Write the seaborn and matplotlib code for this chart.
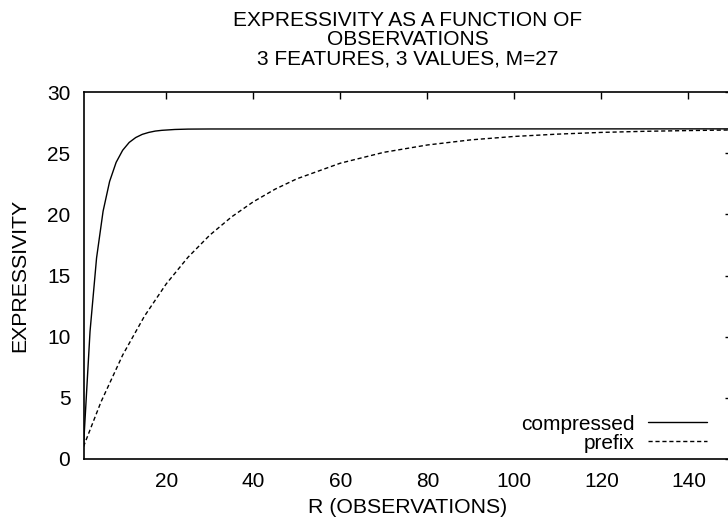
import matplotlib
matplotlib.use("Agg")
import matplotlib.pyplot as plt
import seaborn as sns
import pandas as pd

# data
compressed_r = [1, 2.5, 4, 5.5, 7, 8.5, 10, 11.5, 13, 14.5, 16, 17.5, 19, 22, 25, 30, 150]
compressed_v = [1.0, 10.42, 16.43, 20.26, 22.70, 24.26, 25.25, 25.89, 26.29, 26.55,
                26.71, 26.82, 26.88, 26.95, 26.98, 26.99, 27.0]
prefix_r = [1, 5, 10, 15, 20, 25, 30, 35, 40, 45, 50, 60, 70, 80, 90, 100, 110, 120, 130, 140, 150]
prefix_v = [1.0, 4.64, 8.49, 11.67, 14.31, 16.49, 18.30, 19.79, 21.03, 22.06, 22.91,
            24.19, 25.08, 25.68, 26.10, 26.38, 26.57, 26.71, 26.80, 26.86, 26.91]
x_ticks = [20, 40, 60, 80, 100, 120, 140]
y_ticks = [0, 5, 10, 15, 20, 25, 30]
title_lines = ["EXPRESSIVITY AS A FUNCTION OF", "OBSERVATIONS", "3 FEATURES, 3 VALUES, M=27"]

sns.set_style("white")
plt.rcParams['font.family'] = ['Liberation Sans', 'DejaVu Sans']
plt.rcParams['text.color'] = 'black'
plt.rcParams['axes.labelcolor'] = 'black'

df_c = pd.DataFrame({"R": compressed_r, "E": compressed_v})
df_p = pd.DataFrame({"R": prefix_r, "E": prefix_v})

fig = plt.figure(figsize=(7.28, 5.24), dpi=100)
W, H = 728, 524
x0, x1 = 83.5, 732.0
ytop, ybot = 92.2, 458.8
ax = fig.add_axes([x0 / W, (H - ybot) / H, (x1 - x0) / W, (ybot - ytop) / H])

sns.lineplot(data=df_c, x="R", y="E", ax=ax, color="black", lw=1.0, label="compressed")
sns.lineplot(data=df_p, x="R", y="E", ax=ax, color="black", lw=1.0, label="prefix",
             linestyle=(0, (3, 2)))

ax.set_xlim(1, 150)
ax.set_ylim(0, 30)
ax.set_xticks(x_ticks)
ax.set_yticks(y_ticks)
ax.tick_params(direction="in", length=5, width=1, top=True, right=True,
               labelsize=15, colors="black")
ax.tick_params(axis="y", pad=9.5)
ax.tick_params(axis="x", pad=9.5)
for s in ax.spines.values():
    s.set_color("black")
    s.set_linewidth(1.2)

ax.set_xlabel("R (OBSERVATIONS)", fontsize=15.3, labelpad=5, color="black")
ax.set_ylabel("EXPRESSIVITY", fontsize=15.3, labelpad=13, color="black")
ax.set_title("\n".join(title_lines), fontsize=15, linespacing=1.0, pad=20, color="black")

leg = ax.legend(loc="lower right", bbox_to_anchor=(0.9615, 0.017), frameon=False,
                markerfirst=False, fontsize=15, handlelength=2.85, labelspacing=0.0,
                handletextpad=0.62, borderaxespad=0.0, borderpad=0.0)
for t in leg.get_texts():
    t.set_color("black")

fig.savefig("out.png", dpi=100)
